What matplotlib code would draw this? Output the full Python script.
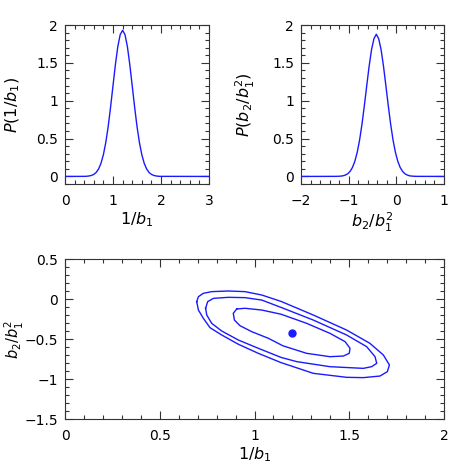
import matplotlib
matplotlib.use('Agg')
from matplotlib import pyplot as plt
from matplotlib.ticker import MultipleLocator, FuncFormatter

plt.rcParams['font.family'] = ['DejaVu Sans']
plt.rcParams['mathtext.fontset'] = 'dejavusans'

# marginal P(1/b1)
inv_b1_x = [0.0, 0.40, 0.45, 0.50, 0.55, 0.60, 0.65, 0.70, 0.75, 0.80, 0.85, 0.90,
            0.95, 1.00, 1.05, 1.10, 1.15, 1.20, 1.25, 1.30, 1.35, 1.40, 1.45,
            1.50, 1.55, 1.60, 1.65, 1.70, 1.75, 1.80, 1.85, 1.90, 1.95, 2.00, 3.0]
inv_b1_p = [0.0, 0.001, 0.002, 0.006, 0.013, 0.027, 0.053, 0.099, 0.174, 0.288,
            0.449, 0.661, 0.918, 1.199, 1.477, 1.714, 1.873, 1.930, 1.873, 1.714,
            1.477, 1.199, 0.918, 0.661, 0.449, 0.288, 0.174, 0.099, 0.053, 0.027,
            0.013, 0.006, 0.002, 0.001, 0.0]

# marginal P(b2/b1^2)
b2_x = [-2.0, -1.27, -1.22, -1.17, -1.12, -1.07, -1.02, -0.97, -0.92, -0.87,
        -0.82, -0.77, -0.72, -0.67, -0.62, -0.57, -0.52, -0.47, -0.42, -0.37,
        -0.32, -0.27, -0.22, -0.17, -0.12, -0.07, -0.02, 0.03, 0.08, 0.13,
        0.18, 0.23, 0.28, 0.33, 0.38, 0.43, 1.0]
b2_p = [0.0, 0.001, 0.002, 0.004, 0.008, 0.018, 0.035, 0.067, 0.119, 0.201,
        0.320, 0.484, 0.693, 0.939, 1.203, 1.459, 1.675, 1.819, 1.878, 1.819,
        1.675, 1.459, 1.203, 0.939, 0.693, 0.484, 0.320, 0.201, 0.119, 0.067,
        0.035, 0.018, 0.008, 0.004, 0.002, 0.001, 0.0]

# joint contours (1/b1, b2/b1^2)
inner_x = [0.906, 0.950, 1.038, 1.140, 1.275, 1.398, 1.478, 1.504, 1.500, 1.469,
           1.398, 1.275, 1.150, 1.073, 0.985, 0.923, 0.894, 0.888, 0.906]
inner_y = [-0.125, -0.116, -0.138, -0.190, -0.304, -0.429, -0.533, -0.616,
           -0.679, -0.713, -0.721, -0.679, -0.585, -0.491, -0.408, -0.333,
           -0.263, -0.179, -0.125]
middle_x = [0.742, 0.753, 0.783, 0.862, 0.950, 1.038, 1.140, 1.310, 1.486, 1.592,
            1.636, 1.645, 1.618, 1.574, 1.398, 1.223, 1.140, 1.020, 0.915,
            0.827, 0.774, 0.748, 0.742]
middle_y = [-0.116, -0.033, 0.008, 0.021, 0.017, -0.013, -0.105, -0.263, -0.450,
            -0.596, -0.721, -0.804, -0.846, -0.867, -0.846, -0.783, -0.730,
            -0.616, -0.513, -0.400, -0.304, -0.200, -0.116]
outer_x = [0.695, 0.704, 0.730, 0.774, 0.862, 0.950, 1.038, 1.140, 1.310, 1.486,
           1.609, 1.680, 1.712, 1.701, 1.662, 1.574, 1.486, 1.310, 1.140, 1.020,
           0.915, 0.827, 0.765, 0.730, 0.704, 0.695]
outer_y = [-0.033, 0.029, 0.071, 0.092, 0.100, 0.092, 0.050, -0.030, -0.200,
           -0.388, -0.554, -0.700, -0.825, -0.908, -0.963, -0.983, -0.979,
           -0.929, -0.795, -0.679, -0.566, -0.450, -0.358, -0.241, -0.138,
           -0.033]
best_x = [1.20]
best_y = [-0.43]

blue = '#1a1aff'
W = 469.0


def fmt(v, pos):
    return ('%g' % v).replace('-', '\u2212')


def style(ax, xmaj, xmin, ymaj, ymin):
    ax.xaxis.set_major_locator(MultipleLocator(xmaj))
    ax.xaxis.set_minor_locator(MultipleLocator(xmin))
    ax.yaxis.set_major_locator(MultipleLocator(ymaj))
    ax.yaxis.set_minor_locator(MultipleLocator(ymin))
    ax.xaxis.set_major_formatter(FuncFormatter(fmt))
    ax.yaxis.set_major_formatter(FuncFormatter(fmt))
    ax.tick_params(which='both', direction='in', top=True, right=True,
                   color='#333333', width=0.8, labelsize=10)
    ax.tick_params(which='major', length=6)
    ax.tick_params(which='minor', length=3)
    ax.tick_params(axis='x', pad=7)
    ax.tick_params(axis='y', pad=5)
    for s in ax.spines.values():
        s.set_linewidth(0.8)
        s.set_color('#333333')


fig = plt.figure(figsize=(4.69, 4.69), dpi=100)

ax1 = fig.add_axes([65 / W, 285 / W, 144 / W, 159 / W])
ax1.plot(inv_b1_x, inv_b1_p, color=blue, lw=1.0)
ax1.set_xlim(0, 3)
ax1.set_ylim(-0.1, 2.0)
style(ax1, 1, 0.2, 0.5, 0.1)
ax1.set_xlabel(r'$1/b_1$', fontsize=11.5, labelpad=2)
ax1.set_ylabel(r'$P(1/b_1)$', fontsize=11.5)
ax1.yaxis.set_label_coords(-0.30, 0.5)

ax2 = fig.add_axes([301 / W, 285 / W, 143 / W, 159 / W])
ax2.plot(b2_x, b2_p, color=blue, lw=1.0)
ax2.set_xlim(-2, 1)
ax2.set_ylim(-0.1, 2.0)
style(ax2, 1, 0.2, 0.5, 0.1)
ax2.set_xlabel(r'$b_2/b_1^2$', fontsize=11.5, labelpad=2)
ax2.set_ylabel(r'$P(b_2/b_1^2)$', fontsize=11.5)
ax2.yaxis.set_label_coords(-0.31, 0.5)

ax3 = fig.add_axes([65 / W, 50 / W, 379 / W, 160 / W])
ax3.plot(inner_x, inner_y, color=blue, lw=1.0)
ax3.plot(middle_x, middle_y, color=blue, lw=1.0)
ax3.plot(outer_x, outer_y, color=blue, lw=1.0)
ax3.plot(best_x, best_y, 'o', color=blue, ms=5)
ax3.set_xlim(0, 2)
ax3.set_ylim(-1.5, 0.5)
style(ax3, 0.5, 0.1, 0.5, 0.1)
ax3.set_xlabel(r'$1/b_1$', fontsize=11.5, labelpad=2)
ax3.set_ylabel(r'$b_2/b_1^2$', fontsize=10.5)
ax3.yaxis.set_label_coords(-0.102, 0.5)

fig.savefig('out.png', dpi=100)
